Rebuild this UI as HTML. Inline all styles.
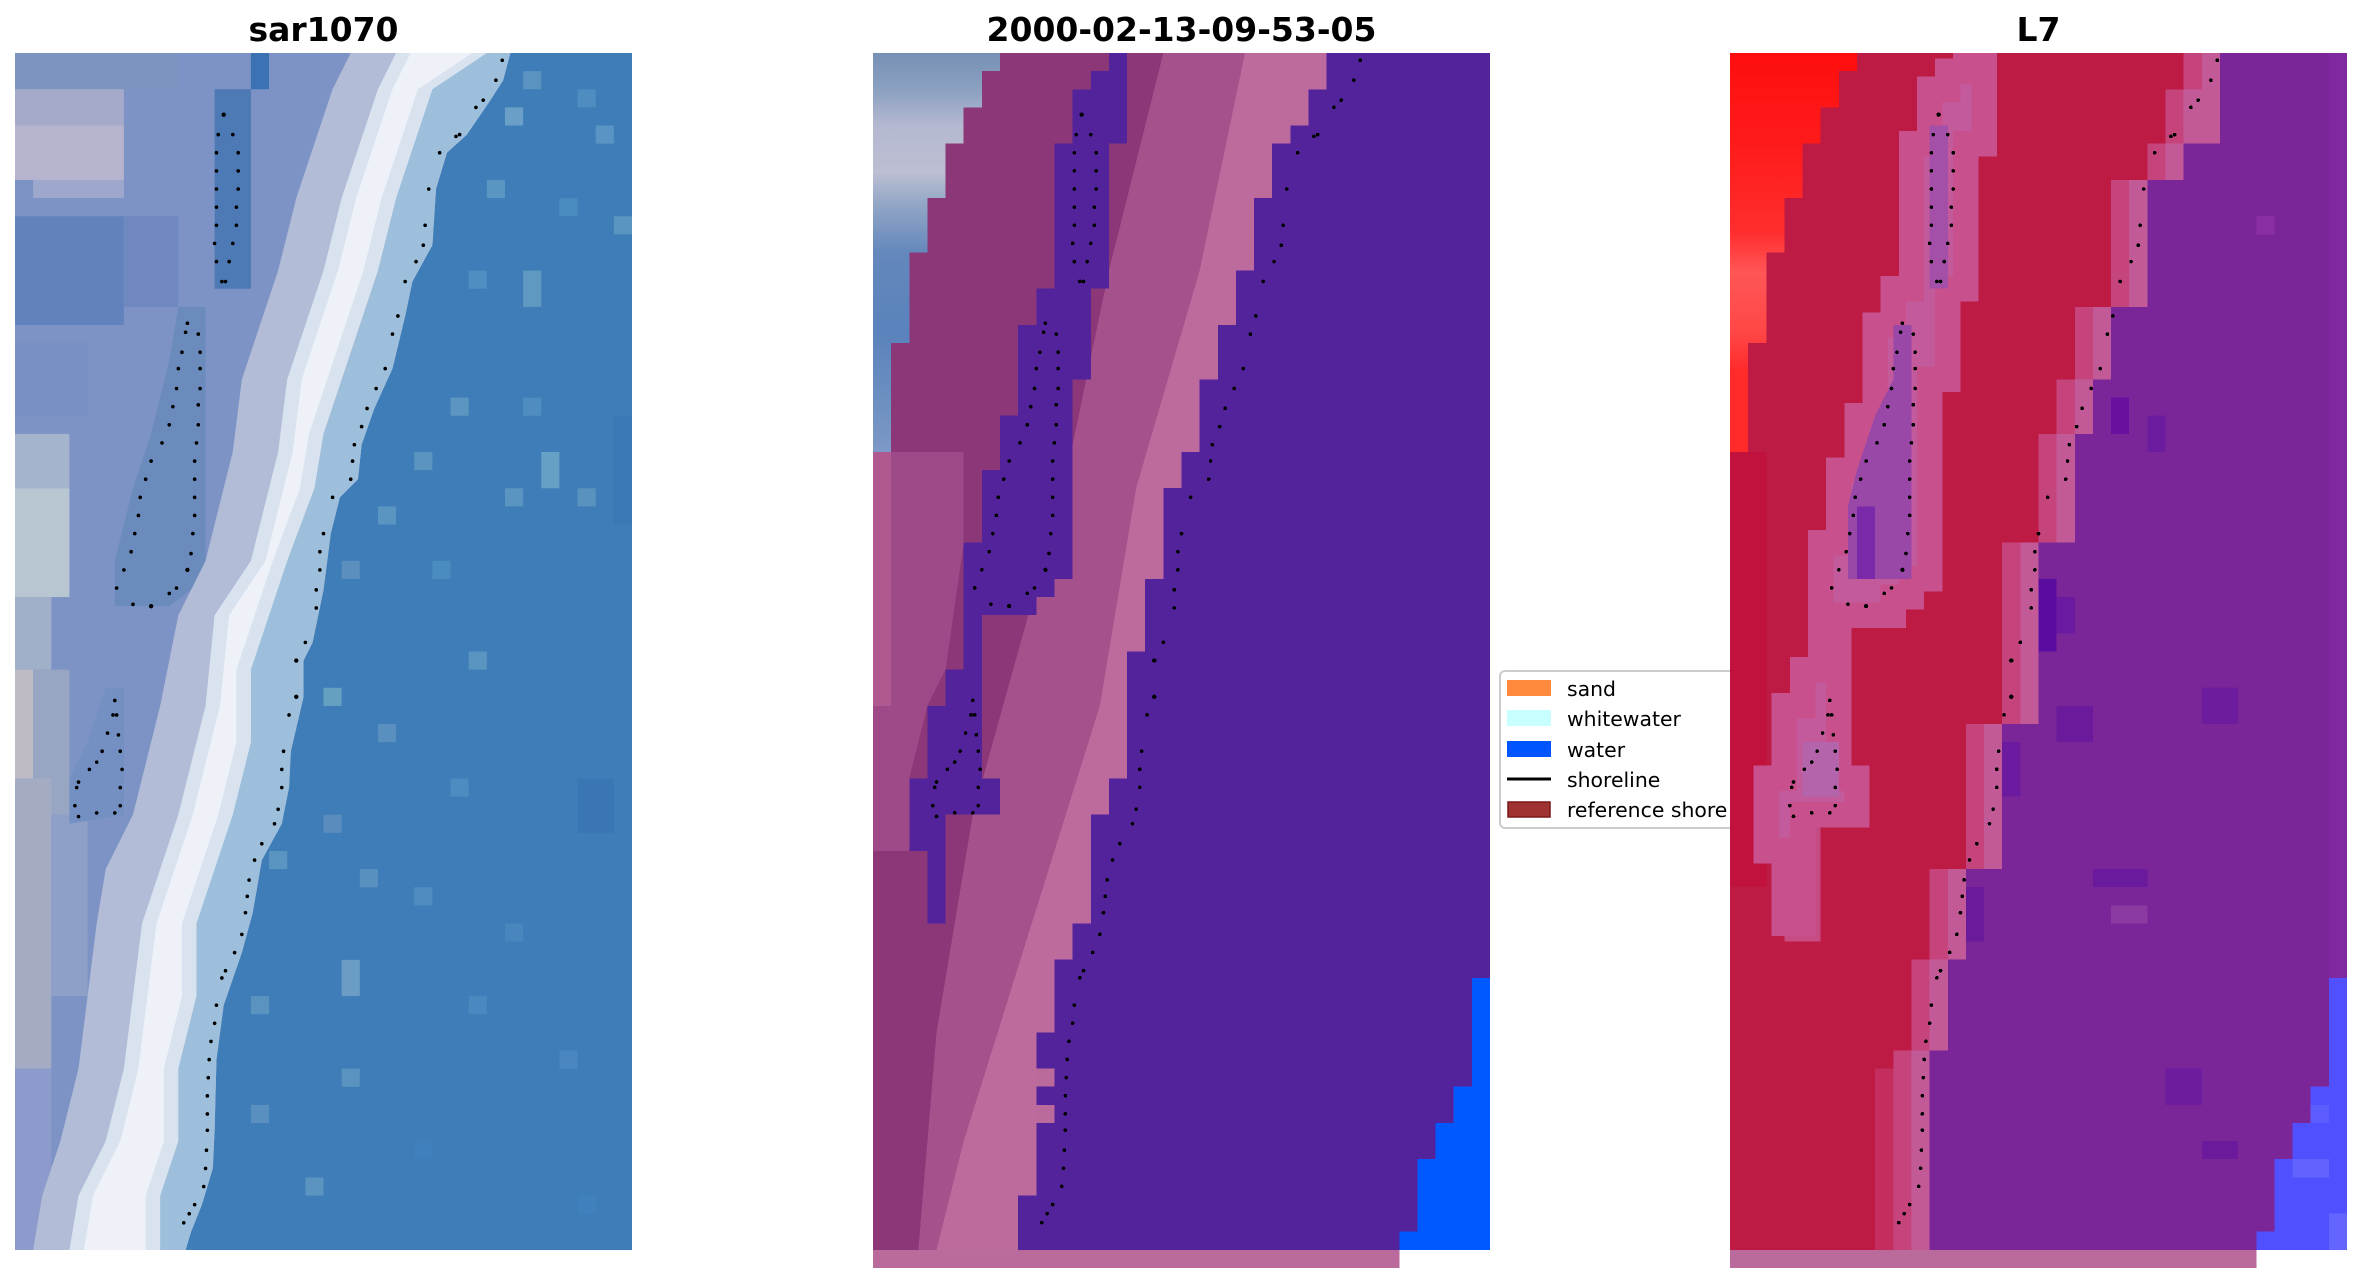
<!DOCTYPE html>
<html>
<head>
<meta charset="utf-8">
<style>
html,body{margin:0;padding:0;background:#fff;}
svg{display:block;}
</style>
</head>
<body>
<svg xmlns="http://www.w3.org/2000/svg" width="2361" height="1283" viewBox="0 0 2361 1283">
<defs>
  <g id="dots" fill="#000">
    <circle cx="26.85" cy="0.4" r="0.1"/><circle cx="26.5" cy="1.5" r="0.1"/><circle cx="25.8" cy="2.6" r="0.1"/><circle cx="25.4" cy="3.0" r="0.1"/>
    <circle cx="24.5" cy="4.5" r="0.1"/><circle cx="24.3" cy="4.6" r="0.1"/><circle cx="23.4" cy="5.5" r="0.1"/><circle cx="22.8" cy="7.5" r="0.1"/>
    <circle cx="22.6" cy="9.5" r="0.1"/><circle cx="22.5" cy="10.6" r="0.1"/><circle cx="22.1" cy="11.5" r="0.1"/><circle cx="21.5" cy="12.6" r="0.1"/>
    <circle cx="21.1" cy="14.5" r="0.1"/><circle cx="20.8" cy="15.5" r="0.1"/><circle cx="20.4" cy="17.4" r="0.1"/><circle cx="19.9" cy="18.5" r="0.1"/>
    <circle cx="19.4" cy="19.6" r="0.1"/><circle cx="19.1" cy="20.6" r="0.1"/><circle cx="18.7" cy="21.6" r="0.1"/><circle cx="18.6" cy="22.5" r="0.1"/>
    <circle cx="18.5" cy="23.5" r="0.1"/><circle cx="17.5" cy="24.5" r="0.1"/><circle cx="17.0" cy="26.5" r="0.1"/><circle cx="16.8" cy="27.5" r="0.1"/>
    <circle cx="16.8" cy="28.5" r="0.1"/><circle cx="16.6" cy="29.6" r="0.1"/><circle cx="16.6" cy="30.6" r="0.1"/><circle cx="16.0" cy="32.5" r="0.1"/>
    <circle cx="15.5" cy="33.5" r="0.12"/><circle cx="15.5" cy="35.5" r="0.12"/><circle cx="15.1" cy="36.5" r="0.1"/><circle cx="14.8" cy="38.5" r="0.1"/>
    <circle cx="14.7" cy="39.5" r="0.1"/><circle cx="14.7" cy="40.5" r="0.1"/><circle cx="14.5" cy="41.7" r="0.1"/><circle cx="14.3" cy="42.5" r="0.1"/>
    <circle cx="13.6" cy="43.6" r="0.1"/><circle cx="13.2" cy="44.5" r="0.1"/><circle cx="12.9" cy="45.6" r="0.1"/><circle cx="12.8" cy="46.5" r="0.1"/>
    <circle cx="12.7" cy="47.4" r="0.1"/><circle cx="12.5" cy="48.6" r="0.1"/><circle cx="12.1" cy="49.6" r="0.1"/><circle cx="11.6" cy="50.6" r="0.1"/>
    <circle cx="11.4" cy="51.0" r="0.1"/><circle cx="11.1" cy="52.5" r="0.1"/><circle cx="11.0" cy="53.5" r="0.1"/><circle cx="10.8" cy="54.5" r="0.1"/>
    <circle cx="10.7" cy="55.5" r="0.1"/><circle cx="10.65" cy="56.5" r="0.1"/><circle cx="10.6" cy="57.5" r="0.1"/><circle cx="10.6" cy="58.5" r="0.1"/>
    <circle cx="10.6" cy="59.4" r="0.1"/><circle cx="10.55" cy="60.5" r="0.1"/><circle cx="10.5" cy="61.5" r="0.1"/><circle cx="10.4" cy="62.5" r="0.1"/>
    <circle cx="9.9" cy="63.5" r="0.1"/><circle cx="9.6" cy="64.0" r="0.1"/><circle cx="9.3" cy="64.5" r="0.1"/>
    <circle cx="11.5" cy="3.4" r="0.12"/><circle cx="11.2" cy="4.5" r="0.1"/><circle cx="12.0" cy="4.5" r="0.1"/><circle cx="11.1" cy="5.5" r="0.1"/>
    <circle cx="12.3" cy="5.5" r="0.1"/><circle cx="11.1" cy="6.5" r="0.1"/><circle cx="12.3" cy="6.5" r="0.1"/><circle cx="11.1" cy="7.5" r="0.1"/>
    <circle cx="12.3" cy="7.5" r="0.1"/><circle cx="11.1" cy="8.5" r="0.1"/><circle cx="12.2" cy="8.5" r="0.1"/><circle cx="11.1" cy="9.5" r="0.1"/>
    <circle cx="12.2" cy="9.5" r="0.1"/><circle cx="11.0" cy="10.5" r="0.1"/><circle cx="12.0" cy="10.5" r="0.1"/><circle cx="11.1" cy="11.5" r="0.1"/>
    <circle cx="11.8" cy="11.5" r="0.1"/><circle cx="11.4" cy="12.6" r="0.1"/><circle cx="11.6" cy="12.6" r="0.1"/>
    <circle cx="9.5" cy="14.9" r="0.1"/><circle cx="10.1" cy="15.5" r="0.1"/><circle cx="10.2" cy="16.5" r="0.1"/><circle cx="10.2" cy="17.4" r="0.1"/>
    <circle cx="10.2" cy="18.5" r="0.1"/><circle cx="10.1" cy="19.4" r="0.1"/><circle cx="10.1" cy="20.5" r="0.1"/><circle cx="10.0" cy="21.5" r="0.1"/>
    <circle cx="9.9" cy="22.5" r="0.1"/><circle cx="9.9" cy="23.5" r="0.1"/><circle cx="9.9" cy="24.5" r="0.1"/><circle cx="9.9" cy="25.5" r="0.1"/>
    <circle cx="9.8" cy="26.5" r="0.1"/><circle cx="9.7" cy="27.6" r="0.1"/><circle cx="9.5" cy="28.5" r="0.12"/><circle cx="8.9" cy="29.5" r="0.1"/>
    <circle cx="8.5" cy="29.8" r="0.1"/>
    <circle cx="9.4" cy="15.4" r="0.1"/><circle cx="9.2" cy="16.5" r="0.1"/><circle cx="9.0" cy="17.4" r="0.1"/><circle cx="8.9" cy="18.5" r="0.1"/>
    <circle cx="8.7" cy="19.5" r="0.1"/><circle cx="8.5" cy="20.5" r="0.1"/><circle cx="8.1" cy="21.5" r="0.1"/><circle cx="7.5" cy="22.5" r="0.1"/>
    <circle cx="7.2" cy="23.5" r="0.1"/><circle cx="6.9" cy="24.5" r="0.1"/><circle cx="6.8" cy="25.5" r="0.1"/><circle cx="6.6" cy="26.5" r="0.1"/>
    <circle cx="6.4" cy="27.5" r="0.1"/><circle cx="6.0" cy="28.5" r="0.1"/><circle cx="5.6" cy="29.5" r="0.1"/><circle cx="6.5" cy="30.4" r="0.1"/>
    <circle cx="7.5" cy="30.5" r="0.12"/>
    <circle cx="5.5" cy="35.7" r="0.1"/><circle cx="5.6" cy="36.5" r="0.1"/><circle cx="5.4" cy="36.5" r="0.1"/><circle cx="5.7" cy="37.6" r="0.1"/>
    <circle cx="5.1" cy="37.5" r="0.1"/><circle cx="5.8" cy="38.5" r="0.1"/><circle cx="4.8" cy="38.5" r="0.1"/><circle cx="4.5" cy="39.1" r="0.1"/>
    <circle cx="5.9" cy="39.5" r="0.1"/><circle cx="4.1" cy="39.5" r="0.1"/><circle cx="3.5" cy="40.2" r="0.1"/><circle cx="3.4" cy="40.5" r="0.1"/>
    <circle cx="5.8" cy="40.5" r="0.1"/><circle cx="3.3" cy="41.5" r="0.1"/><circle cx="5.8" cy="41.5" r="0.1"/><circle cx="3.5" cy="42.1" r="0.1"/>
    <circle cx="4.5" cy="41.9" r="0.1"/><circle cx="5.5" cy="41.9" r="0.1"/>
  </g>
  <linearGradient id="gblue" gradientUnits="userSpaceOnUse" x1="0" y1="0" x2="0" y2="22">
    <stop offset="0" stop-color="#7690b4"/>
    <stop offset="0.1" stop-color="#8ea2c2"/>
    <stop offset="0.18" stop-color="#b4b8d0"/>
    <stop offset="0.3" stop-color="#bcbed3"/>
    <stop offset="0.38" stop-color="#92a6c6"/>
    <stop offset="0.5" stop-color="#6488bc"/>
    <stop offset="0.7" stop-color="#5a82bc"/>
    <stop offset="0.85" stop-color="#6a8ec0"/>
    <stop offset="1" stop-color="#7c98c6"/>
  </linearGradient>
  <linearGradient id="gred" gradientUnits="userSpaceOnUse" x1="0" y1="0" x2="0" y2="22">
    <stop offset="0" stop-color="#ff0e0e"/>
    <stop offset="0.25" stop-color="#ff1c1c"/>
    <stop offset="0.45" stop-color="#ff2e2e"/>
    <stop offset="0.55" stop-color="#ff5656"/>
    <stop offset="0.7" stop-color="#ff4646"/>
    <stop offset="0.8" stop-color="#ff2a2a"/>
    <stop offset="1" stop-color="#ff2a2a"/>
  </linearGradient>
</defs>

<g font-family="DejaVu Sans, Liberation Sans, sans-serif" font-weight="bold" font-size="33" fill="#000" text-anchor="middle">
  <text x="323.5" y="41">sar1070</text>
  <text x="1181.5" y="41">2000-02-13-09-53-05</text>
  <text x="2038.5" y="41">L7</text>
</g>

<!-- PANEL 1 -->
<svg x="15" y="53" width="617" height="1197" viewBox="0 0 34 66" preserveAspectRatio="none">
  <rect x="0" y="0" width="34" height="66" fill="#3e7db7"/>
  <g>
    <rect x="28" y="1" width="1" height="1" fill="#5a92c0"/><rect x="31" y="2" width="1" height="1" fill="#4f8cc0"/>
    <rect x="27" y="3" width="1" height="1" fill="#6aa0c8"/><rect x="32" y="4" width="1" height="1" fill="#5a94c4"/>
    <rect x="26" y="7" width="1" height="1" fill="#5a96c2"/><rect x="28" y="12" width="1" height="2" fill="#5f98c0"/>
    <rect x="25" y="12" width="1" height="1" fill="#4f8ec0"/><rect x="30" y="8" width="1" height="1" fill="#4a8cc0"/>
    <rect x="33" y="9" width="1" height="1" fill="#5a94c0"/><rect x="24" y="19" width="1" height="1" fill="#5c96c0"/>
    <rect x="28" y="19" width="1" height="1" fill="#4f8cc0"/><rect x="22" y="22" width="1" height="1" fill="#5a94bf"/>
    <rect x="29" y="22" width="1" height="2" fill="#66a0c4"/><rect x="27" y="24" width="1" height="1" fill="#5a94c0"/>
    <rect x="31" y="24" width="1" height="1" fill="#5a92be"/><rect x="20" y="25" width="1" height="1" fill="#5a94c0"/>
    <rect x="18" y="28" width="1" height="1" fill="#5a8fbe"/><rect x="23" y="28" width="1" height="1" fill="#4a8cc0"/>
    <rect x="25" y="33" width="1" height="1" fill="#5a94c0"/><rect x="17" y="35" width="1" height="1" fill="#66a0c0"/>
    <rect x="20" y="37" width="1" height="1" fill="#5a90c0"/><rect x="24" y="40" width="1" height="1" fill="#4c8cc0"/>
    <rect x="17" y="42" width="1" height="1" fill="#5a8cbe"/><rect x="14" y="44" width="1" height="1" fill="#5a94c0"/>
    <rect x="19" y="45" width="1" height="1" fill="#5a90c0"/><rect x="22" y="46" width="1" height="1" fill="#4f8cc0"/>
    <rect x="18" y="50" width="1" height="2" fill="#6a9cc4"/><rect x="27" y="48" width="1" height="1" fill="#4a86be"/>
    <rect x="13" y="52" width="1" height="1" fill="#5a92c0"/><rect x="18" y="56" width="1" height="1" fill="#5a92c0"/>
    <rect x="30" y="55" width="1" height="1" fill="#4a86c0"/><rect x="13" y="58" width="1" height="1" fill="#5a90c0"/>
    <rect x="16" y="62" width="1" height="1" fill="#5c94c0"/><rect x="22" y="60" width="1" height="1" fill="#4080bc"/>
    <rect x="25" y="52" width="1" height="1" fill="#4a88c0"/><rect x="31" y="63" width="1" height="1" fill="#4080bc"/>
    <rect x="33" y="20" width="1" height="6" fill="#3a78b6"/><rect x="31" y="40" width="2" height="3" fill="#3a76b4"/>
  </g>
  <polygon fill="#7d93c5" points="0,0 27.3,0 26.9,1.5 26.2,2.6 24.9,4.5 23.8,5.5 23.2,7.5 23,10.6 22.5,11.5 21.9,12.6 21.5,14.5 20.8,17.4 19.8,19.6 19.1,21.6 18.9,23.5 17.9,24.5 17.4,26.5 17,29.6 16.4,32.5 15.9,33.5 15.9,35.5 15.2,38.5 15.1,40.5 14.7,42.5 13.6,44.5 13.1,47.4 12.5,49.6 11.5,52.5 11.1,55.5 11,59.4 10.9,61.5 10.3,63.5 9.7,65 9.4,66 0,66"/>
  <rect x="0" y="0" width="9" height="2" fill="#7d93c0"/>
  <rect x="0" y="2" width="6" height="2" fill="#a6aaca"/>
  <rect x="0" y="4" width="6" height="3" fill="#b6b4cf"/>
  <rect x="1" y="7" width="5" height="1" fill="#9ea8cc"/>
  <rect x="0" y="9" width="6" height="6" fill="#6282bd"/>
  <rect x="6" y="9" width="3" height="5" fill="#7088c0"/>
  <rect x="0" y="16" width="4" height="4" fill="#7890c4"/>
  <rect x="0" y="21" width="3" height="3" fill="#a4b4cc"/>
  <rect x="0" y="24" width="3" height="6" fill="#b8c6d2"/>
  <rect x="0" y="30" width="2" height="4" fill="#a0b0c8"/>
  <rect x="0" y="34" width="1" height="6" fill="#c0bac4"/>
  <rect x="1" y="34" width="2" height="8" fill="#98a6c4"/>
  <rect x="0" y="40" width="2" height="16" fill="#a4acc4"/>
  <rect x="0" y="56" width="2" height="10" fill="#8c9acc"/>
  <rect x="2" y="42" width="2" height="10" fill="#8ea0c8"/>
  <rect x="11" y="2" width="2" height="11" fill="#4d7ab4"/>
  <rect x="13" y="0" width="1" height="2" fill="#3a72b4"/>
  <polygon fill="#6b8bbd" points="9,14 10.5,14 10.5,29 8.5,30.5 5.5,30.5 5.5,28 6.5,24 7.5,21 8.5,17"/>
  <polygon fill="#7490c2" points="5,35 6,35 6,42 3,42.5 3,40 4,38"/>
  <polygon fill="#b2bcd6" points="18.5,0 17.5,2 16.5,5 15.5,8 14.5,12 13.5,15 12.5,18 12,22 11.5,24 10.5,28 9,31 8,36 7.5,38 6.5,42 5,45 4.5,48 4,52 3.5,56 2.5,60 1.5,63 1,66 9.4,66 9.7,65 10.3,63.5 10.9,61.5 11,59.4 11.1,55.5 11.5,52.5 12.5,49.6 13.1,47.4 13.6,44.5 14.7,42.5 15.1,40.5 15.2,38.5 15.9,35.5 15.9,33.5 16.4,32.5 17,29.6 17.4,26.5 17.9,24.5 18.9,23.5 19.1,21.6 19.8,19.6 20.8,17.4 21.5,14.5 21.9,12.6 22.5,11.5 23,10.6 23.2,7.5 23.8,5.5 24.9,4.5 26.2,2.6 26.9,1.5 27.3,0"/>
  <polygon fill="#9ebfdb" points="25.5,0 22.5,2 21.5,5 20.5,8 19.5,12 18.5,15 17.5,18 16.5,21 16,24 14.5,28 13.5,31 12.5,34 12.5,38 11.5,42 10.5,45 9.5,48 9.5,52 8.5,56 8.5,60 7.5,63 7.5,66 9.4,66 9.7,65 10.3,63.5 10.9,61.5 11,59.4 11.1,55.5 11.5,52.5 12.5,49.6 13.1,47.4 13.6,44.5 14.7,42.5 15.1,40.5 15.2,38.5 15.9,35.5 15.9,33.5 16.4,32.5 17,29.6 17.4,26.5 17.9,24.5 18.9,23.5 19.1,21.6 19.8,19.6 20.8,17.4 21.5,14.5 21.9,12.6 22.5,11.5 23,10.6 23.2,7.5 23.8,5.5 24.9,4.5 26.2,2.6 26.9,1.5 27.3,0"/>
  <polygon fill="#d9e3ef" points="21,0 20,2 19,5 18,8 17,12 16,15 15,18 14.5,22 14,24 13,28 11,31 10.5,36 10,38 9,42 8,45 7,48 6.5,52 6,56 5,60 3.5,63 3,66 8,66 8,63 9,60 9,56 10,52 10,48 11,45 12,42 13,38 13,34 14,31 15,28 16.5,24 17,21 18,18 19,15 20,12 21,8 22,5 23,2 26,0"/>
  <polygon fill="#eef2f8" points="21.8,0 20.8,2 19.8,5 18.8,8 17.8,12 16.8,15 15.8,18 15.3,22 14.8,24 13.8,28 11.8,31 11.3,36 10.8,38 9.8,42 8.8,45 7.8,48 7.3,52 6.8,56 5.8,60 4.3,63 3.8,66 7.2,66 7.2,63 8.2,60 8.2,56 9.2,52 9.2,48 10.2,45 11.2,42 12.2,38 12.2,34 13.2,31 14.2,28 15.7,24 16.2,21 17.2,18 18.2,15 19.2,12 20.2,8 21.2,5 22.2,2 25.2,0"/>
  <use href="#dots"/>
</svg>

<!-- PANEL 2 -->
<svg x="873" y="53" width="617" height="1215" viewBox="0 0 34 67" preserveAspectRatio="none" shape-rendering="crispEdges">
  <rect x="0" y="0" width="34" height="66" fill="#8b3778"/>
  <rect x="0" y="66" width="29" height="1" fill="#bb6a9c"/>
  <polygon fill="#9f4a88" points="0,22 5,22 5,27 4,34 3,36 2,40 2,44 0,44"/>
  <rect x="0" y="22" width="1" height="14" fill="#b05890"/>
  <polygon fill="#a5518c" points="16,0 13,12 10.5,24 8,33 5.5,42 3.5,54 2.5,66 34,66 34,0"/>
  <polygon fill="#bd6a9d" points="20.5,0 18,12 14.5,24 12.5,36 10,44 7.5,52 5,60 3.5,66 34,66 34,0"/>
  <polygon fill="url(#gblue)" points="0,0 7,0 7,1 6,1 6,3 5,3 5,5 4,5 4,8 3,8 3,11 2,11 2,16 1,16 1,22 0,22"/>
  <polygon fill="#53239b" points="14,0 14,5 13,5 13,13 12,13 12,18 11,18 11,29 10,29 10,30 9,30 9,31 6,31 6,40 7,40 7,42 4,42 4,48 3,48 3,44 2,44 2,40 3,40 3,36 4,36 4,34 5,34 5,27 6,27 6,23 7,23 7,20 8,20 8,15 9,15 9,13 10,13 10,5 11,5 11,2 12,2 12,1 13,1 13,0"/>
  <polygon fill="#53239b" points="34,0 25,0 25,2 24,2 24,4 23,4 23,5 22,5 22,8 21,8 21,12 20,12 20,15 19,15 19,18 18,18 18,22 17,22 17,24 16,24 16,29 15,29 15,33 14,33 14,40 13,40 13,42 12,42 12,48 11,48 11,50 10,50 10,54 9,54 9,63 8,63 8,66 34,66"/>
  <rect x="9" y="56" width="1" height="1" fill="#bb6a9c"/>
  <rect x="9" y="58" width="1" height="1" fill="#bb6a9c"/>
  <polygon fill="#0059ff" points="33,51 34,51 34,66 29,66 29,65 30,65 30,61 31,61 31,59 32,59 32,57 33,57"/>
  <use href="#dots"/>
</svg>

<!-- LEGEND -->
<g>
  <rect x="1500" y="671" width="260" height="157" rx="5" ry="5" fill="#ffffff" stroke="#cccccc" stroke-width="2"/>
  <rect x="1507" y="680" width="44" height="16" fill="#ff8a3d"/>
  <rect x="1507" y="710" width="44" height="16" fill="#c8ffff"/>
  <rect x="1507" y="741" width="44" height="16" fill="#0055ff"/>
  <line x1="1507" y1="779" x2="1551" y2="779" stroke="#000" stroke-width="3"/>
  <rect x="1508" y="802" width="42" height="15" fill="#a03232" stroke="#7a1818" stroke-width="1.5"/>
  <g font-family="DejaVu Sans, Liberation Sans, sans-serif" font-size="20.4" fill="#000">
    <text x="1567" y="696">sand</text>
    <text x="1567" y="726">whitewater</text>
    <text x="1567" y="757">water</text>
    <text x="1567" y="787">shoreline</text>
    <text x="1567" y="817">reference shore</text>
  </g>
</g>

<!-- PANEL 3 -->
<svg x="1730" y="53" width="617" height="1215" viewBox="0 0 34 67" preserveAspectRatio="none" shape-rendering="crispEdges">
  <rect x="0" y="0" width="34" height="66" fill="#bd1a44"/>
  <rect x="0" y="66" width="29" height="1" fill="#bb6a9c"/>
  <rect x="0" y="22" width="2" height="24" fill="#c0123c"/>
  <rect x="3" y="42" width="2" height="7" fill="#c64c84"/>
  <rect x="8" y="56" width="1" height="10" fill="#c42e5e"/>
  <polygon fill="url(#gred)" points="0,0 7,0 7,1 6,1 6,3 5,3 5,5 4,5 4,8 3,8 3,11 2,11 2,16 1,16 1,22 0,22"/>
  <!-- runnels -->
  <polygon fill="#c25a9c" stroke="#c8508c" stroke-width="1.4" stroke-linejoin="miter" points="14,0 14,5 13,5 13,13 12,13 12,18 11,18 11,29 10,29 10,30 9,30 9,31 6,31 6,40 7,40 7,42 4,42 4,48 3,48 3,44 2,44 2,40 3,40 3,36 4,36 4,34 5,34 5,27 6,27 6,23 7,23 7,20 8,20 8,15 9,15 9,13 10,13 10,5 11,5 11,2 12,2 12,1 13,1 13,0"/>
  <rect x="11" y="4" width="1" height="9" fill="#a550a8"/>
  <polygon fill="#9a48a8" points="9,15 10,15 10,29 6.5,29 6.5,25 7,23 8,20 9,18"/>
  <rect x="7" y="25" width="1" height="4" fill="#7a2aa8"/>
  <rect x="4" y="38" width="2" height="3" fill="#b464aa"/>
  <!-- shore band -->
  <polygon fill="#c6447c" points="34,0 25,0 25,2 24,2 24,5 23,5 23,7 21,7 21,14 19,14 19,18 18,18 18,21 17,21 17,27 15,27 15,37 13,37 13,45 11,45 11,50 10,50 10,55 9,55 9,66 34,66"/>
  <polygon fill="#c25a98" points="34,0 26,0 26,2 25,2 25,5 24,5 24,7 22,7 22,14 20,14 20,18 19,18 19,21 18,21 18,27 16,27 16,37 14,37 14,45 12,45 12,50 11,50 11,55 10,55 10,66 34,66"/>
  <polygon fill="#7b2698" points="34,0 27,0 27,5 25,5 25,7 23,7 23,14 21,14 21,18 20,18 20,21 19,21 19,27 17,27 17,37 15,37 15,45 13,45 13,50 12,50 12,55 11,55 11,66 34,66"/>
  <rect x="17" y="29" width="1" height="4" fill="#5a0ca0"/>
  <rect x="18" y="30" width="1" height="2" fill="#6a1aa0"/>
  <rect x="21" y="19" width="1" height="2" fill="#6a10a0"/>
  <rect x="23" y="20" width="1" height="2" fill="#6c1c9e"/>
  <rect x="15" y="38" width="1" height="3" fill="#6c1aa0"/>
  <rect x="18" y="36" width="2" height="2" fill="#6a1a9a"/>
  <rect x="13" y="46" width="1" height="3" fill="#6a1a9a"/>
  <rect x="20" y="45" width="3" height="1" fill="#6a1a9c"/>
  <rect x="21" y="47" width="2" height="1" fill="#8a3aa0"/>
  <rect x="26" y="35" width="2" height="2" fill="#6c1c9c"/>
  <rect x="24" y="56" width="2" height="2" fill="#6c1c9c"/>
  <rect x="26" y="60" width="2" height="1" fill="#6a1a9a"/>
  <rect x="29" y="9" width="1" height="1" fill="#8a30a2"/>
  <rect x="33" y="0" width="1" height="51" fill="#8028a0"/>
  <polygon fill="#5050ff" points="33,51 34,51 34,66 29,66 29,65 30,65 30,61 31,61 31,59 32,59 32,57 33,57"/>
  <rect x="31" y="61" width="2" height="1" fill="#6262ff"/>
  <rect x="32" y="58" width="1" height="1" fill="#5c5cff"/>
  <rect x="33" y="64" width="1" height="2" fill="#6464ff"/>
  <use href="#dots"/>
</svg>
</svg>
</body>
</html>
